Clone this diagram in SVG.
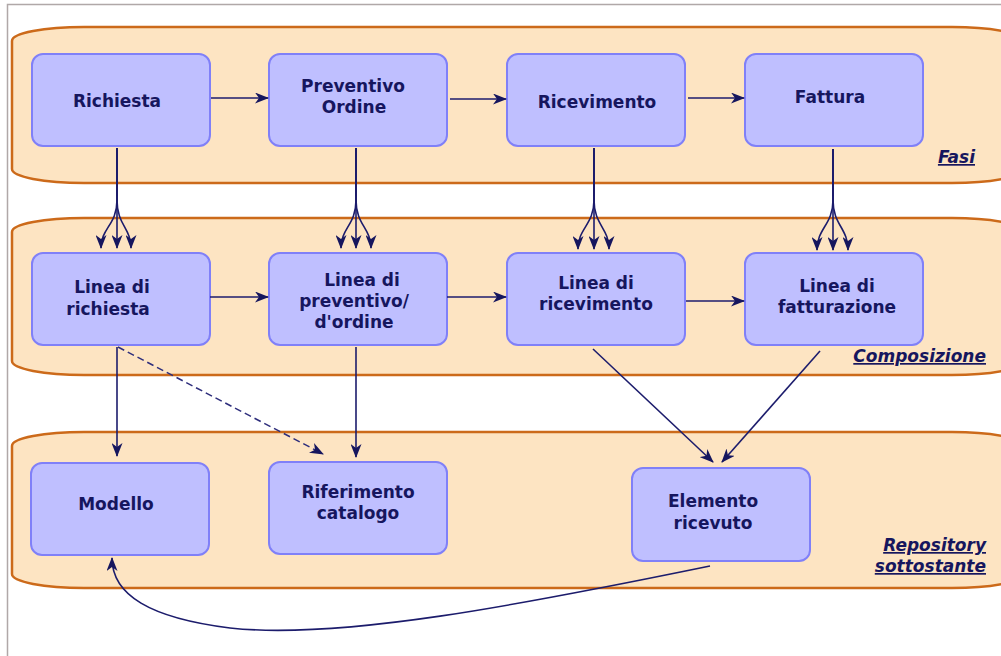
<svg xmlns="http://www.w3.org/2000/svg" width="1001" height="656" viewBox="0 0 1001 656">
<defs>
<style>
.band{fill:#fde4c2;stroke:#cc6a1a;stroke-width:2.5}
.node rect{fill:#bfbfff;stroke:#8080f8;stroke-width:2}
.node text{font-family:"DejaVu Sans",Verdana,sans-serif;font-weight:bold;font-size:17px;fill:#16165e;text-anchor:middle}
.lane{font-family:"DejaVu Sans",Verdana,sans-serif;font-weight:bold;font-style:italic;font-size:17px;fill:#16165e;text-anchor:end;text-decoration:underline}
.c{fill:none;stroke:#1c1c6c;stroke-width:1.6}
.d{fill:none;stroke:#2e2e7c;stroke-width:1.5;stroke-dasharray:7 4}
</style>
<marker id="ah" viewBox="0 0 14 11" refX="13" refY="5.5" markerWidth="14" markerHeight="11" markerUnits="userSpaceOnUse" orient="auto">
<path d="M0,0 L14,5.5 L0,11 L4,5.5 z" fill="#16165e"/>
</marker>
</defs>
<rect x="0" y="0" width="1001" height="656" fill="#fff"/>
<path d="M7.5,656 V4.5 H1001" fill="none" stroke="#b0a8a8" stroke-width="1.5"/>

<g id="lanes">
<rect class="band" x="12" y="27" width="1012" height="156" rx="72" ry="14"/>
<rect class="band" x="12" y="218" width="1012" height="157" rx="72" ry="14"/>
<rect class="band" x="12" y="432" width="1012" height="156" rx="72" ry="14"/>
<text class="lane" x="975" y="163">Fasi</text>
<text class="lane" x="986" y="362">Composizione</text>
<text class="lane" x="986" y="551">Repository</text>
<text class="lane" x="986" y="572">sottostante</text>
</g>

<g id="n-richiesta" class="node"><rect x="32" y="54" width="178" height="92" rx="11"/><text x="117" y="107">Richiesta</text></g>
<g id="n-preventivo" class="node"><rect x="269" y="54" width="178" height="92" rx="11"/><text x="353" y="92">Preventivo</text><text x="354" y="113">Ordine</text></g>
<g id="n-ricevimento" class="node"><rect x="507" y="54" width="178" height="92" rx="11"/><text x="597" y="108">Ricevimento</text></g>
<g id="n-fattura" class="node"><rect x="745" y="54" width="178" height="92" rx="11"/><text x="830" y="103">Fattura</text></g>

<g id="n-linea-richiesta" class="node"><rect x="32" y="253" width="178" height="92" rx="11"/><text x="112" y="293">Linea di</text><text x="108" y="315">richiesta</text></g>
<g id="n-linea-preventivo" class="node"><rect x="269" y="253" width="178" height="92" rx="11"/><text x="362" y="286">Linea di</text><text x="354" y="307">preventivo/</text><text x="354" y="328">d'ordine</text></g>
<g id="n-linea-ricevimento" class="node"><rect x="507" y="253" width="178" height="92" rx="11"/><text x="596" y="289">Linea di</text><text x="596" y="310">ricevimento</text></g>
<g id="n-linea-fatturazione" class="node"><rect x="745" y="253" width="178" height="92" rx="11"/><text x="837" y="292">Linea di</text><text x="837" y="313">fatturazione</text></g>

<g id="n-modello" class="node"><rect x="31" y="463" width="178" height="92" rx="11"/><text x="116" y="510">Modello</text></g>
<g id="n-riferimento" class="node"><rect x="269" y="462" width="178" height="92" rx="11"/><text x="358" y="498">Riferimento</text><text x="358" y="519">catalogo</text></g>
<g id="n-elemento" class="node"><rect x="632" y="468" width="178" height="93" rx="11"/><text x="713" y="507">Elemento</text><text x="713" y="529">ricevuto</text></g>

<g id="connectors">
<path class="c" d="M211,98 H268" marker-end="url(#ah)"/>
<path class="c" d="M450,99 H506" marker-end="url(#ah)"/>
<path class="c" d="M688,98 H744" marker-end="url(#ah)"/>
<path class="c" d="M210,297 H268" marker-end="url(#ah)"/>
<path class="c" d="M447,297 H506" marker-end="url(#ah)"/>
<path class="c" d="M686,301 H744" marker-end="url(#ah)"/>

<path class="c" d="M117,148 V200 C117,225 101,228 101,248" marker-end="url(#ah)"/>
<path class="c" d="M117,148 V248" marker-end="url(#ah)"/>
<path class="c" d="M117,148 V200 C117,225 131,228 131,248" marker-end="url(#ah)"/>
<path class="c" d="M117,148 V196" stroke-width="3.5"/>

<path class="c" d="M356,148 V200 C356,225 341,228 341,248" marker-end="url(#ah)"/>
<path class="c" d="M356,148 V248" marker-end="url(#ah)"/>
<path class="c" d="M356,148 V200 C356,225 371,228 371,248" marker-end="url(#ah)"/>
<path class="c" d="M356,148 V196" stroke-width="3.5"/>

<path class="c" d="M594,148 V200 C594,225 578,228 578,249" marker-end="url(#ah)"/>
<path class="c" d="M594,148 V249" marker-end="url(#ah)"/>
<path class="c" d="M594,148 V200 C594,225 609,228 609,249" marker-end="url(#ah)"/>
<path class="c" d="M594,148 V196" stroke-width="3.5"/>

<path class="c" d="M833,149 V200 C833,225 817,228 817,250" marker-end="url(#ah)"/>
<path class="c" d="M833,149 V250" marker-end="url(#ah)"/>
<path class="c" d="M833,149 V200 C833,225 848,228 848,250" marker-end="url(#ah)"/>
<path class="c" d="M833,149 V196" stroke-width="3.5"/>

<path class="c" d="M117,347 V456" marker-end="url(#ah)"/>
<path class="d" d="M118,347 L323,454" marker-end="url(#ah)"/>
<path class="c" d="M356,347 V457" marker-end="url(#ah)"/>
<path class="c" d="M593,349 L713,462" marker-end="url(#ah)"/>
<path class="c" d="M820,351 L722,462" marker-end="url(#ah)"/>
<path class="c" d="M710,566 C520,605 340,640 230,628 C150,618 112,595 112,558" marker-end="url(#ah)"/>
</g>
</svg>
